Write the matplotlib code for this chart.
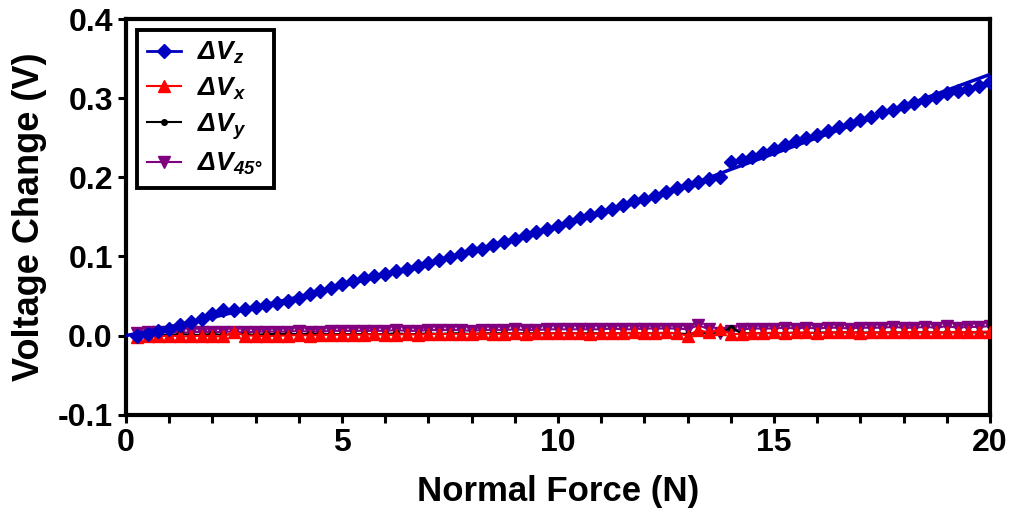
import numpy as np
import matplotlib
matplotlib.use('Agg')
import matplotlib.pyplot as plt
from matplotlib.lines import Line2D

plt.rcParams['font.family'] = ['Liberation Sans', 'DejaVu Sans']
plt.rcParams['font.weight'] = 'bold'
plt.rcParams['mathtext.fontset'] = 'custom'
plt.rcParams['mathtext.rm'] = 'Liberation Sans:bold:italic'
plt.rcParams['mathtext.it'] = 'Liberation Sans:bold:italic'
plt.rcParams['mathtext.bf'] = 'Liberation Sans:bold:italic'

# Fuerza normal (N), paso de 0.25 N
force = np.arange(0.25, 20.001, 0.25)

# Cambio de voltaje (V) de cada canal
dVz = [-0.001, 0.002, 0.006, 0.008, 0.013, 0.017, 0.021, 0.027, 0.033, 0.033,
       0.034, 0.036, 0.039, 0.041, 0.044, 0.047, 0.053, 0.056, 0.060, 0.065,
       0.069, 0.073, 0.075, 0.078, 0.082, 0.084, 0.088, 0.092, 0.096, 0.099,
       0.103, 0.108, 0.110, 0.114, 0.118, 0.122, 0.127, 0.131, 0.135, 0.139,
       0.143, 0.148, 0.152, 0.156, 0.160, 0.165, 0.170, 0.173, 0.177, 0.182,
       0.186, 0.190, 0.194, 0.198, 0.200, 0.219, 0.222, 0.226, 0.231, 0.236,
       0.241, 0.246, 0.250, 0.254, 0.258, 0.263, 0.268, 0.272, 0.276, 0.282,
       0.285, 0.290, 0.294, 0.298, 0.301, 0.306, 0.309, 0.312, 0.316, 0.321]

dVx = [-0.002, -0.001, -0.001, 0.000, -0.001, -0.001, 0.000, -0.001, -0.001, 0.005,
       0.000, 0.000, -0.001, 0.000, 0.000, 0.001, 0.000, 0.001, 0.001, 0.001,
       0.001, 0.001, 0.002, 0.001, 0.001, 0.002, 0.001, 0.002, 0.002, 0.002,
       0.002, 0.002, 0.003, 0.002, 0.002, 0.003, 0.002, 0.003, 0.003, 0.003,
       0.003, 0.003, 0.002, 0.003, 0.003, 0.003, 0.004, 0.003, 0.003, 0.004,
       0.003, 0.000, 0.007, 0.004, 0.008, 0.002, 0.002, 0.003, 0.003, 0.004,
       0.003, 0.004, 0.004, 0.003, 0.004, 0.004, 0.005, 0.003, 0.004, 0.004,
       0.004, 0.004, 0.005, 0.004, 0.004, 0.004, 0.005, 0.004, 0.005, 0.005]

dVy = [0.001, 0.001, 0.001, 0.001, 0.002, 0.001, 0.001, 0.002, 0.001, 0.002,
       0.002, 0.001, 0.002, 0.002, 0.002, 0.002, 0.002, 0.002, 0.002, 0.002,
       0.002, 0.002, 0.002, 0.002, 0.003, 0.002, 0.002, 0.003, 0.002, 0.003,
       0.003, 0.002, 0.003, 0.003, 0.003, 0.003, 0.003, 0.003, 0.003, 0.003,
       0.003, 0.003, 0.003, 0.003, 0.003, 0.003, 0.003, 0.003, 0.003, 0.003,
       0.003, 0.002, 0.003, 0.003, 0.003, 0.010, 0.003, 0.003, 0.003, 0.003,
       0.003, 0.004, 0.003, 0.004, 0.004, 0.004, 0.004, 0.004, 0.004, 0.004,
       0.004, 0.004, 0.004, 0.004, 0.004, 0.004, 0.004, 0.004, 0.004, 0.004]

dV45 = [0.003, 0.004, 0.004, 0.005, 0.004, 0.004, 0.005, 0.004, 0.005, 0.005,
        0.004, 0.005, 0.005, 0.005, 0.005, 0.006, 0.005, 0.005, 0.006, 0.006,
        0.006, 0.006, 0.006, 0.006, 0.007, 0.006, 0.006, 0.007, 0.007, 0.007,
        0.007, 0.006, 0.007, 0.007, 0.007, 0.008, 0.007, 0.007, 0.008, 0.008,
        0.008, 0.008, 0.008, 0.008, 0.009, 0.008, 0.008, 0.009, 0.009, 0.009,
        0.009, 0.008, 0.013, 0.008, 0.003, 0.006, 0.008, 0.009, 0.009, 0.009,
        0.010, 0.009, 0.010, 0.009, 0.010, 0.010, 0.009, 0.010, 0.010, 0.010,
        0.011, 0.010, 0.010, 0.011, 0.010, 0.012, 0.010, 0.011, 0.011, 0.012]

# Curva de ajuste de dVz
fit_force = [0, 1, 2, 3, 4, 5, 6, 7, 8, 9, 10,
             11, 12, 13, 14, 15, 16, 17, 18, 19, 20]
fit_dVz = [0.000, 0.011, 0.023, 0.036, 0.049, 0.063, 0.077, 0.092, 0.107, 0.122, 0.138,
           0.154, 0.171, 0.189, 0.210, 0.230, 0.250, 0.270, 0.290, 0.310, 0.330]

labels = [r'$\Delta V_z$', r'$\Delta V_x$', r'$\Delta V_y$', r'$\Delta V_{45°}$']
blue = '#0000c0'
red = '#ff0000'
purple = '#800080'

fig = plt.figure(figsize=(10.11, 5.14), dpi=100)
ax = fig.add_axes([0.1246, 0.193, 0.8546, 0.770])

ax.plot(force, dV45, color=purple, lw=1.5, marker='v', ms=9, zorder=2)
ax.plot(force, dVy, color='black', lw=1.5, marker='o', ms=4, zorder=3)
ax.plot(force, dVx, color=red, lw=1.5, marker='^', ms=9, zorder=4)
ax.plot(force, dVz, color=blue, ls='none', marker='D', ms=7.5, zorder=5)
ax.plot(fit_force, fit_dVz, color=blue, lw=2.5, zorder=6)

ax.set_xlim(0, 20)
ax.set_ylim(-0.1, 0.4)
ax.set_xticks([0, 5, 10, 15, 20])
ax.set_xticks(np.arange(0, 21, 1), minor=True)
ax.set_yticks([-0.1, 0.0, 0.1, 0.2, 0.3, 0.4])
ax.set_yticklabels(['-0.1', '0.0', '0.1', '0.2', '0.3', '0.4'])
ax.tick_params(which='both', direction='out', length=6, width=2.2, labelsize=23)
for s in ax.spines.values():
    s.set_linewidth(3)

ax.set_xlabel('Normal Force (N)', fontsize=25, fontweight='bold', labelpad=12)
ax.set_ylabel('Voltage Change (V)', fontsize=26, fontweight='bold', labelpad=8)

handles = [
    Line2D([], [], color=blue, lw=2, marker='D', ms=7.5),
    Line2D([], [], color=red, lw=1.5, marker='^', ms=9),
    Line2D([], [], color='black', lw=1.5, marker='o', ms=4),
    Line2D([], [], color=purple, lw=1.5, marker='v', ms=9),
]
leg = ax.legend(handles, labels, loc='upper left', fontsize=19, fancybox=False,
                edgecolor='black', framealpha=1, handlelength=1.3,
                labelspacing=0.35, borderaxespad=0.4, borderpad=0.4,
                handletextpad=0.6)
leg.get_frame().set_linewidth(2.8)

plt.savefig('out.png', dpi=100)
